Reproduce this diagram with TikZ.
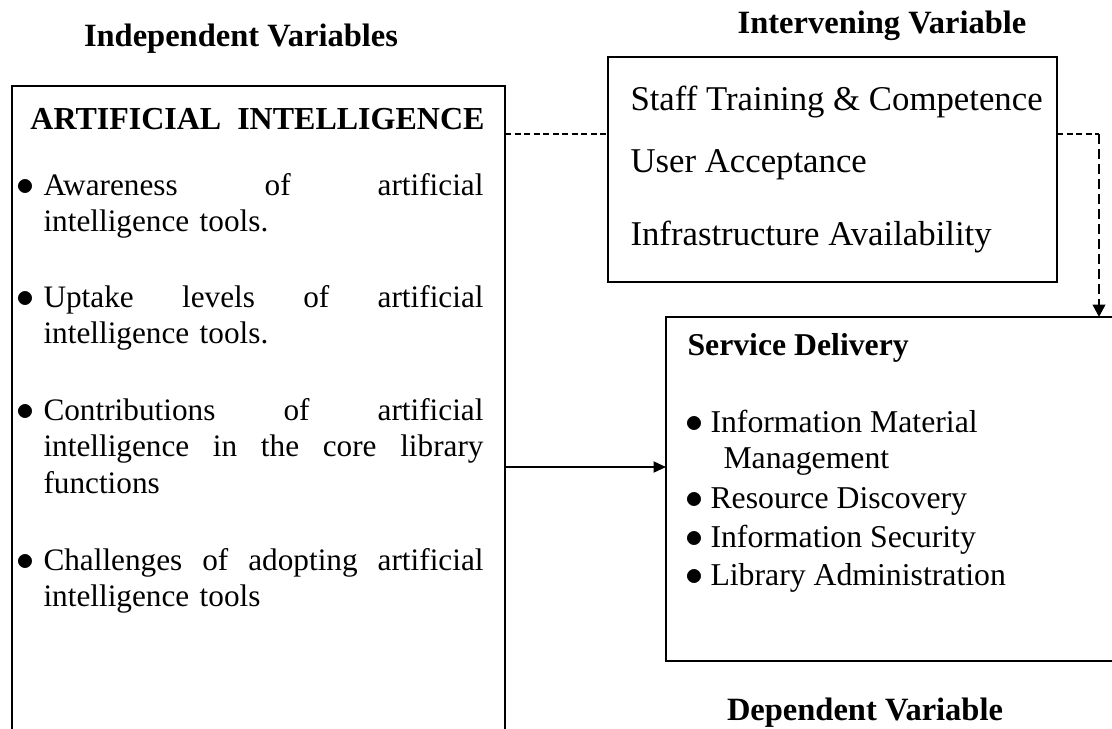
\documentclass[tikz,border=0pt]{standalone}
\usepackage{fontspec}
\setmainfont{Liberation Serif}
\usetikzlibrary{arrows.meta}
\tikzset{
  vbox/.style  ={rectangle, draw=black, line width=0.6pt, inner sep=0pt, outer sep=0pt},
  head/.style  ={font=\bfseries\fontsize{13}{15}\selectfont, anchor=base, inner sep=0pt},
  aihead/.style={head, font=\bfseries\fontsize{12.8}{15}\selectfont},
  sdhead/.style={head, anchor=base west, font=\bfseries\fontsize{12.7}{15}\selectfont},
  aiitem/.style={font=\fontsize{12.5}{14.6}\selectfont, text width=176pt, align=left,
                 anchor=base west, inner sep=0pt},
  ivtxt/.style ={font=\fontsize{13.9}{16}\selectfont, anchor=base west, inner sep=0pt},
  sditem/.style={font=\fontsize{12.7}{14}\selectfont, anchor=base west, inner sep=0pt},
  dline/.style ={line width=0.8pt, dash pattern=on 2.4pt off 1.4pt},
  darrow/.style={line width=1pt, dash pattern=on 4pt off 2pt, -{Triangle[length=5pt, width=5pt]}},
  sarrow/.style={line width=0.8pt, -{Triangle[length=5pt, width=4.4pt]}},
}
\newcommand{\bigdot}{{\fontsize{13.5}{13.5}\selectfont$\bullet$}}
\newcommand{\bul}{\llap{\bigdot\hspace{3.8pt}}}
\newcommand{\sbul}{\llap{\bigdot\hspace{3pt}}}

\begin{document}
\begin{tikzpicture}[x=0.4pt, y=-0.4pt]
  \useasboundingbox (0,0) rectangle (1112,728);
  \clip (0,0) rectangle (1112,728);
  \node[vbox, minimum width=197.2pt, minimum height=263.6pt] (ai) at (258.5,415.5) {};
  \node[vbox, minimum width=179.6pt, minimum height=90pt] (iv) at (832.5,169.5) {};
  \node[vbox, minimum width=183.6pt, minimum height=137.6pt] (sd) at (895.5,489) {};

  \node[head] (indep) at (241,46) {Independent Variables};
  \node[head] (interv) at (882,33) {Intervening Variable};
  \node[head] (dep) at (865,720) {Dependent Variable};

  \node[aihead] (aititle) at (257.5,129) {ARTIFICIAL\ \ INTELLIGENCE};
  \node[aiitem] (aware) at (43,195) {\bul Awareness\hfill of\hfill artificial\\ intelligence tools.};
  \node[aiitem] (uptake) at (43,307) {\bul Uptake\hfill levels\hfill of\hfill artificial\\ intelligence tools.};
  \node[aiitem] (contrib) at (43,420) {\bul Contributions\hfill of\hfill artificial\\
    intelligence\hfill in\hfill the\hfill core\hfill library\\ functions};
  \node[aiitem] (chall) at (43,570) {\bul Challenges\hfill of\hfill adopting\hfill artificial\\ intelligence tools};

  \node[ivtxt] (staff) at (630,110) {Staff Training \& Competence};
  \node[ivtxt] (accept) at (630,172) {User Acceptance};
  \node[ivtxt] (infra) at (630,245) {Infrastructure Availability};

  \node[sdhead] (sdtitle) at (687,355) {Service Delivery};
  \node[sditem] (infomat) at (710,432) {\sbul Information Material};
  \node[sditem] (manage) at (723,468) {Management};
  \node[sditem] (discov) at (710,508) {\sbul Resource Discovery};
  \node[sditem] (secur) at (710,547) {\sbul Information Security};
  \node[sditem] (admin) at (710,585) {\sbul Library Administration};

  \coordinate (dashy) at (0,134);
  \coordinate (dropx) at (1099,0);
  \coordinate (arry) at (0,467);
  \draw[dline] (ai.east |- dashy) -- (iv.west |- dashy);
  \draw[dline] (iv.east |- dashy) -- (dropx |- dashy);
  \draw[darrow] (dropx |- dashy) -- (dropx |- sd.north);
  \draw[sarrow] (ai.east |- arry) -- (sd.west |- arry);
\end{tikzpicture}
\end{document}
